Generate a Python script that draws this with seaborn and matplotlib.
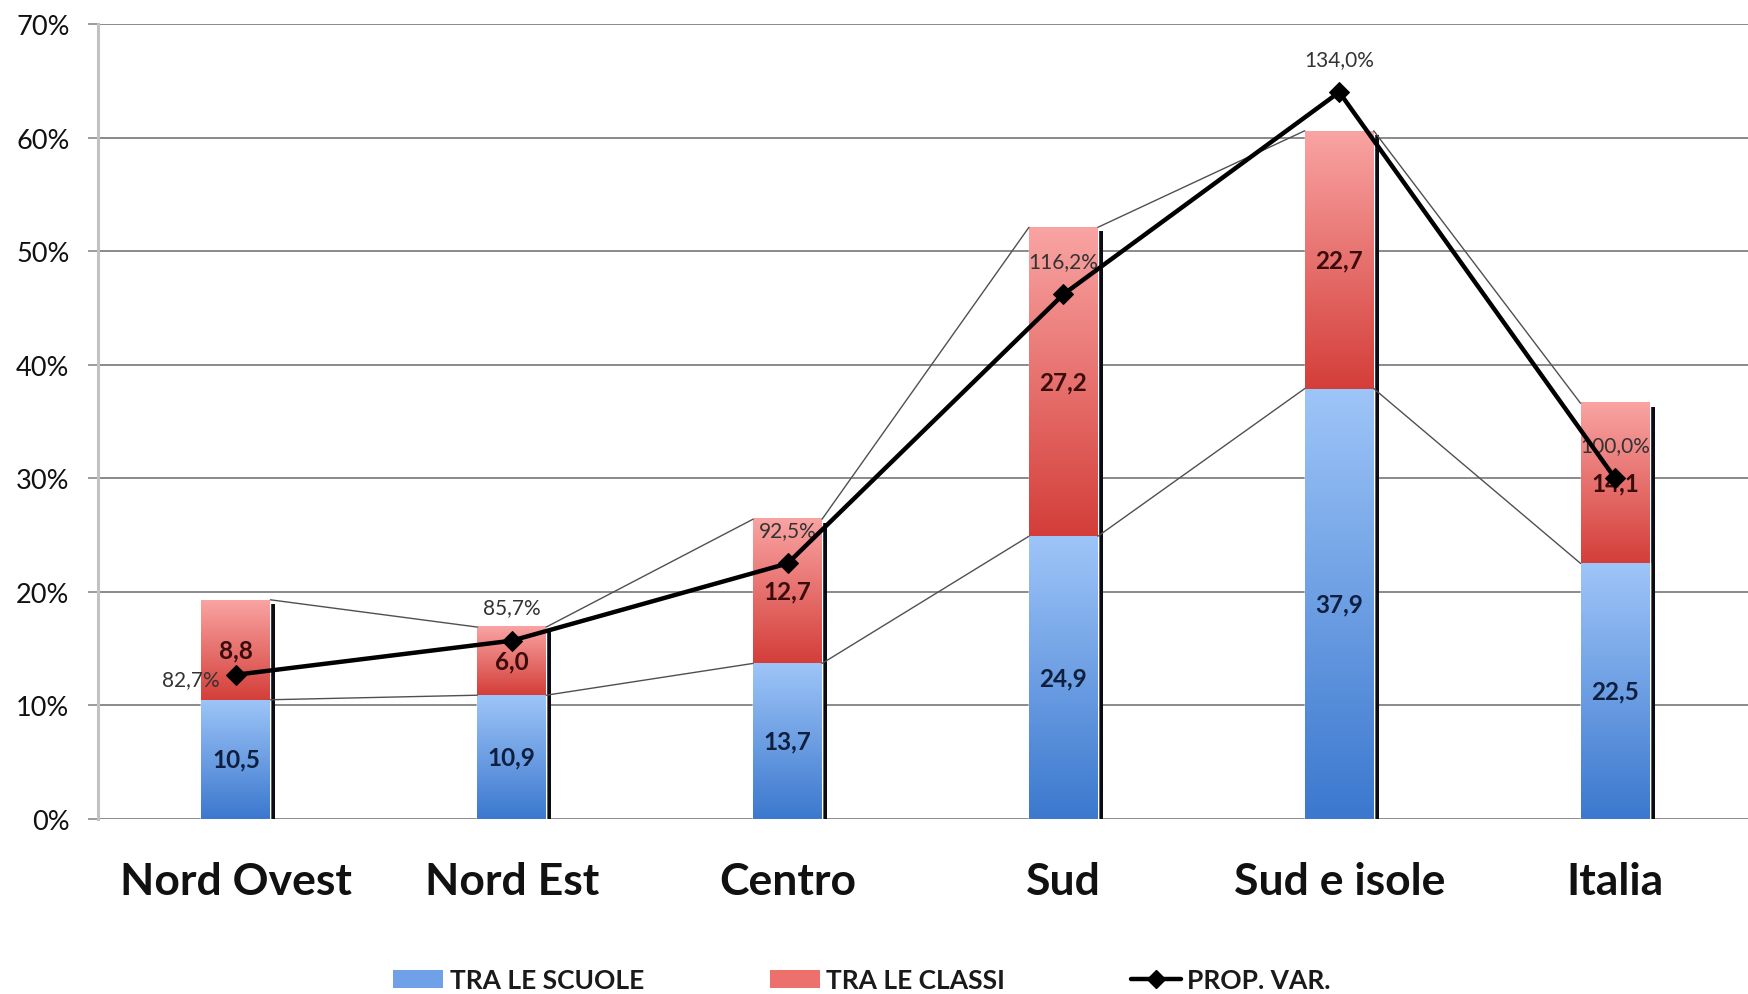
import numpy as np
import pandas as pd
import matplotlib
matplotlib.use("Agg")
import matplotlib.pyplot as plt
import matplotlib.transforms as mtransforms
from matplotlib.colors import LinearSegmentedColormap
from matplotlib.patches import Patch, Rectangle
from matplotlib.lines import Line2D
import seaborn as sns

# ---------------- data ----------------
categories = ["Nord Ovest", "Nord Est", "Centro", "Sud", "Sud e isole", "Italia"]
tra_scuole = [10.5, 10.9, 13.7, 24.9, 37.9, 22.5]
tra_classi = [8.8, 6.0, 12.7, 27.2, 22.7, 14.1]
prop_var = [82.7, 85.7, 92.5, 116.2, 134.0, 100.0]
y_ticks = [0, 10, 20, 30, 40, 50, 60, 70]
y_tick_labels = ["0%", "10%", "20%", "30%", "40%", "50%", "60%", "70%"]
legend_labels = ["TRA LE SCUOLE", "TRA LE CLASSI", "PROP. VAR."]

# ---------------- style ----------------
sns.set_theme(style="white")
plt.rcParams["font.family"] = ["Lato", "DejaVu Sans"]

BLUE_LIGHT, BLUE_DARK = "#9EC5F8", "#3B78CE"
RED_LIGHT, RED_DARK = "#F9A4A3", "#D43E39"
cmap_blue = LinearSegmentedColormap.from_list("b", [BLUE_DARK, BLUE_LIGHT])
cmap_red = LinearSegmentedColormap.from_list("r", [RED_DARK, RED_LIGHT])

W, H = 1749, 995
fig = plt.figure(figsize=(W / 100, H / 100), dpi=100)
ax = fig.add_axes([98 / W, 175 / H, (1753 - 98) / W, 795 / H])

df = pd.DataFrame({
    "cat": categories,
    "scuole": tra_scuole,
    "classi": tra_classi,
})
df["total"] = df["scuole"] + df["classi"]

bar_w = 0.25
sns.barplot(data=df, x="cat", y="total", order=categories, width=bar_w,
            color=RED_DARK, saturation=1, ax=ax, zorder=2)
n_tot = len(ax.patches)
sns.barplot(data=df, x="cat", y="scuole", order=categories, width=bar_w,
            color=BLUE_DARK, saturation=1, ax=ax, zorder=2)

tot_patches = ax.patches[:n_tot]
blue_patches = ax.patches[n_tot:]

grad = np.linspace(0, 1, 256).reshape(-1, 1)
shadow_tr = mtransforms.offset_copy(ax.transData, fig=fig, x=5, y=-4, units="dots")

for i, (pt, pb) in enumerate(zip(tot_patches, blue_patches)):
    x0, w = pt.get_x(), pt.get_width()
    top = pt.get_height()
    btop = pb.get_height()
    # shadow
    ax.add_patch(Rectangle((x0, 0), w, top, transform=shadow_tr,
                           facecolor="#0b0b14", edgecolor="none", zorder=1.5))
    # gradients
    ax.imshow(grad, cmap=cmap_blue, origin="lower", aspect="auto",
              extent=(x0, x0 + w, 0, btop), zorder=2.1, interpolation="bicubic")
    ax.imshow(grad, cmap=cmap_red, origin="lower", aspect="auto",
              extent=(x0, x0 + w, btop, top), zorder=2.1, interpolation="bicubic")
    # data labels
    ax.text(i, btop / 2, f"{tra_scuole[i]:.1f}".replace(".", ","), ha="center",
            va="center", fontsize=17.5, fontweight="bold", color="#0f1f3f", zorder=4)
    ax.text(i, btop + tra_classi[i] / 2, f"{tra_classi[i]:.1f}".replace(".", ","),
            ha="center", va="center", fontsize=17.5, fontweight="bold",
            color="#3a0c0c", zorder=4)

# series lines (connecting segment tops between adjacent bars)
for i in range(len(categories) - 1):
    a, b = tot_patches[i], tot_patches[i + 1]
    xa = a.get_x() + a.get_width()
    xb = b.get_x()
    ax.plot([xa, xb], [a.get_height(), b.get_height()], color="#505050", lw=1.0, zorder=2.5)
    ab, bb = blue_patches[i], blue_patches[i + 1]
    ax.plot([xa, xb], [ab.get_height(), bb.get_height()], color="#505050", lw=1.0, zorder=2.5)

ax.set_xlim(-0.5, len(categories) - 0.5)
ax.set_ylim(0, 70)
ax.set_yticks(y_ticks)
ax.set_yticklabels(y_tick_labels)
ax.set_xlabel("")
ax.set_ylabel("")
ax.set_axisbelow(True)
ax.yaxis.grid(True, color="#8a8a8a", lw=1.4)
ax.xaxis.grid(False)
for s in ["top", "right", "bottom"]:
    ax.spines[s].set_visible(False)
ax.spines["left"].set_color("#c2c2c2")
ax.spines["left"].set_linewidth(2.2)
ax.tick_params(axis="y", length=7.5, width=1.2, color="#8a8a8a", pad=13,
               labelsize=19.5, labelcolor="#111111", left=True)
ax.tick_params(axis="x", length=0, pad=30, labelsize=32, labelcolor="#111111")
for lbl in ax.get_xticklabels():
    lbl.set_fontweight("bold")

# secondary (hidden) axis for PROP. VAR.
ax2 = ax.twinx()
ax2.set_ylim(70, 140)
xpos = np.arange(len(categories))
sns.lineplot(x=xpos, y=prop_var, ax=ax2, color="black", lw=3.2, marker="D",
             markersize=10, markeredgecolor="black", zorder=5)
ax2.set_xlim(-0.5, len(categories) - 0.5)
ax2.axis("off")
for i, v in enumerate(prop_var):
    txt = f"{v:.1f}%".replace(".", ",")
    if i == 0:
        ax2.annotate(txt, (xpos[i], v), xytext=(-12, -3), textcoords="offset points",
                     ha="right", va="center", fontsize=15, color="#333333")
    else:
        ax2.annotate(txt, (xpos[i], v), xytext=(0, 24), textcoords="offset points",
                     ha="center", va="center", fontsize=15, color="#333333")

# legend
handles = [
    Patch(facecolor="#6FA0E8", edgecolor="none"),
    Patch(facecolor="#EC716D", edgecolor="none"),
    Line2D([0], [0], color="black", lw=3.2, marker="D", markersize=9),
]
fig.legend(handles, legend_labels, loc="center", bbox_to_anchor=(862 / W, 1 - 981 / H),
           ncol=3, frameon=False, prop={"size": 19, "weight": "bold"},
           handlelength=1.9, handleheight=0.7, handletextpad=0.25, columnspacing=4.75,
           labelcolor="#1a1a1a")

fig.savefig("out.png", dpi=100, facecolor="white")
